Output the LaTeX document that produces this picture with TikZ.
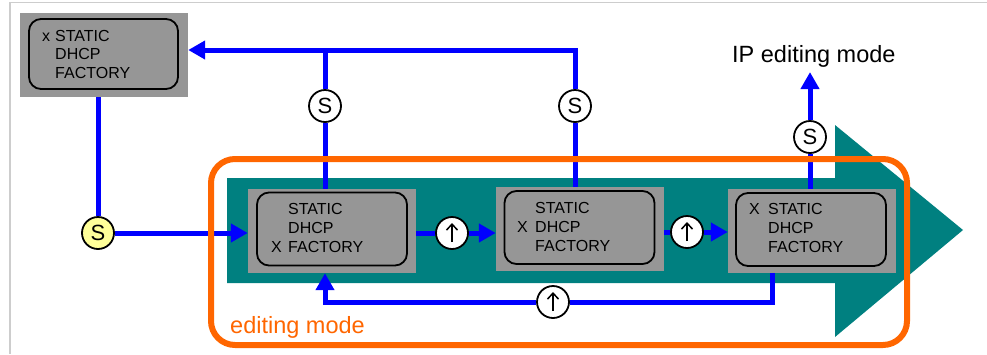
\documentclass[tikz,border=0pt]{standalone}
\usepackage{fontspec}
\setmainfont{Liberation Sans}
\usetikzlibrary{arrows.meta}
\definecolor{tealA}{RGB}{0,128,128}
\definecolor{orangeA}{RGB}{255,102,0}
\definecolor{grayA}{RGB}{150,150,150}
\definecolor{blueA}{RGB}{0,0,255}
\definecolor{yellowA}{RGB}{255,255,153}
\definecolor{frameA}{RGB}{205,205,205}
\pgfdeclarelayer{bg}\pgfdeclarelayer{lines}\pgfsetlayers{bg,lines,main}
\newcommand\xcol[2]{\makebox[#1][l]{#2}}
\begin{document}
\begin{tikzpicture}[x=1pt,y=-1pt,
 grayrect/.style={fill=grayA, minimum width=168pt, minimum height=84pt, inner sep=0},
 innerbox/.style={draw=black, line width=1.8pt, rounded corners=12pt, minimum width=150pt, minimum height=73pt, inner sep=0},
 boxtext/.style={anchor=north west, inner sep=0, align=left, font=\fontsize{16}{19}\selectfont},
 scircle/.style={circle, draw=black, line width=1.8pt, fill=white, minimum size=32pt, inner sep=0, font=\fontsize{22}{22}\selectfont},
 ucircle/.style={scircle, path picture={\draw[line width=1.5pt, -{Straight Barb[length=6pt,width=11pt,line width=1.5pt]}] ([yshift=-9pt]path picture bounding box.center) -- ([yshift=10pt]path picture bounding box.center);}},
 bl/.style={draw=blueA, line width=5pt},
 blarrow/.style={-{Triangle[length=17pt,width=18pt]}}
]
\useasboundingbox (0,0) rectangle (987,354);
\draw[frameA, line width=1.5pt] (10,354) -- (10,2.5) -- (987,2.5);
\begin{pgfonlayer}{bg}
\fill[tealA] (227,178) -- (835,178) -- (835,125) -- (963,230) -- (835,337) -- (835,283) -- (227,283) -- cycle;
\end{pgfonlayer}
\draw[orangeA, line width=6pt, rounded corners=24pt] (211,159) rectangle (907,345);
% boxes
\node[grayrect] (g0) at (104,55) {};
\node[innerbox, minimum width=149pt, minimum height=70pt] (r0) at (103.5,54) {};
\node[boxtext, font=\fontsize{16}{18.5}\selectfont] (t0) at (42,30) {\xcol{13pt}{x}STATIC\\\xcol{13pt}{}DHCP\\\xcol{13pt}{}FACTORY};
\node[grayrect] (g1) at (332,231) {};
\node[innerbox] (r1) at (332,229) {};
\node[boxtext] (t1) at (271,203) {\xcol{17pt}{}STATIC\\\xcol{17pt}{}DHCP\\\xcol{17pt}{X}FACTORY};
\node[grayrect] (g2) at (580,229) {};
\node[innerbox] (r2) at (579.5,227.5) {};
\node[boxtext] (t2) at (517,202) {\xcol{18pt}{}STATIC\\\xcol{18pt}{X}DHCP\\\xcol{18pt}{}FACTORY};
\node[grayrect] (g3) at (812,231) {};
\node[innerbox] (r3) at (811,229.5) {};
\node[boxtext] (t3) at (749,203) {\xcol{19pt}{X}STATIC\\\xcol{19pt}{}DHCP\\\xcol{19pt}{}FACTORY};
% circles
\node[scircle] (s1) at (325,106) {S};
\node[scircle] (s2) at (575,106) {S};
\node[scircle] (s3) at (810,137) {S};
\node[scircle, fill=yellowA] (s0) at (98,233) {S};
\node[ucircle] (u1) at (452,233) {};
\node[ucircle] (u2) at (687,232) {};
\node[ucircle] (u3) at (553,302) {};
% labels
\node[anchor=base west, inner sep=0, font=\fontsize{23.5}{23.5}\selectfont] (ip) at (732,62) {IP editing mode};
\node[anchor=base west, inner sep=0, text=orangeA, font=\fontsize{23.5}{23.5}\selectfont] (em) at (230,333) {editing mode};
% connectors
\begin{pgfonlayer}{lines}
\coordinate (tr) at (575,50);
\coordinate (bR) at (772,302);
\coordinate (bL) at (325,302);
\path[bl] (g0.south -| s0) -- (s0);
\path[bl, blarrow] (s0) -- (g1.west |- s0);
\path[bl] (g1.north -| s1) -- (s1) -- (s1 |- tr);
\path[bl, blarrow] (g2.north -| s2) -- (s2) -- (tr) -- (g0.east |- tr);
\path[bl, blarrow] (g1.east |- u1) -- (u1) -- (g2.west |- u1);
\path[bl, blarrow] (g2.east |- u2) -- (u2) -- (g3.west |- u2);
\path[bl, blarrow] (g3.south -| bR) -- (bR) -- (u3) -- (bL) -- (g1.south -| bL);
\path[bl, blarrow, shorten >=5pt] (g3.north -| s3) -- (s3) -- (ip.south -| s3);
\end{pgfonlayer}
\end{tikzpicture}
\end{document}
